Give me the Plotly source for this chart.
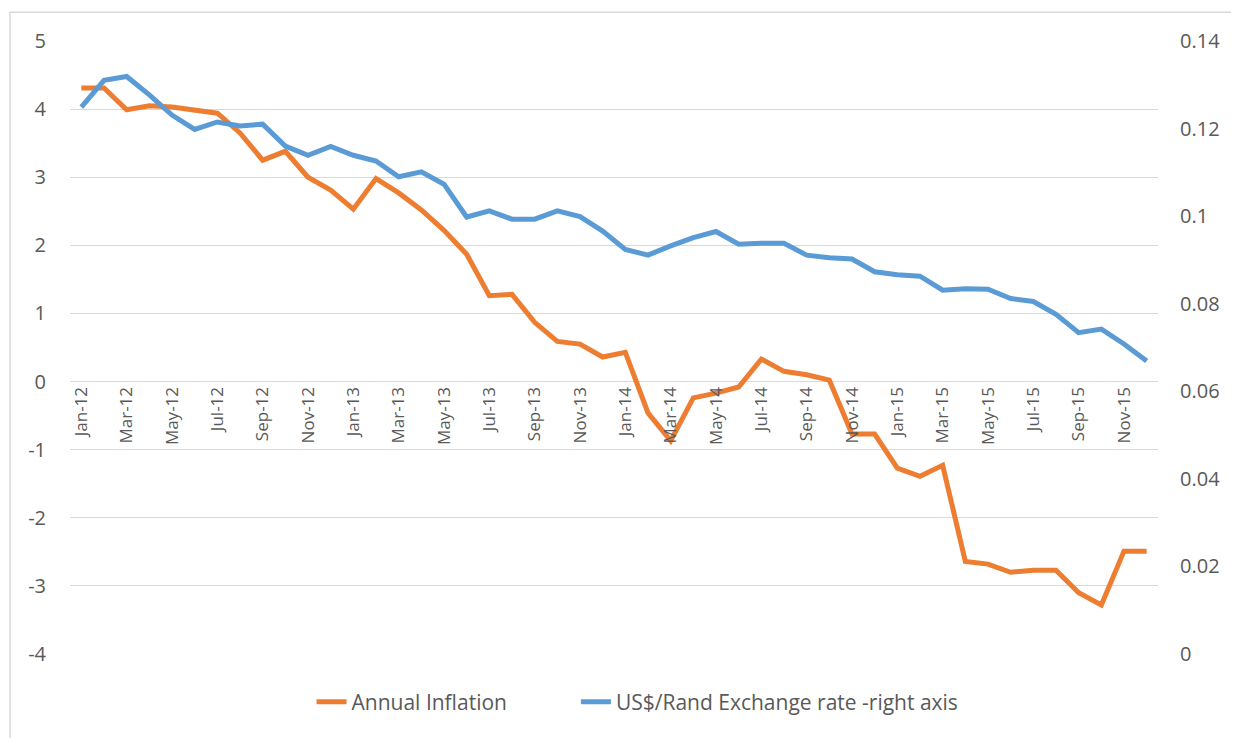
import plotly.graph_objects as go

months = [m + '-' + y for y in ['12', '13', '14', '15']
          for m in ['Jan', 'Feb', 'Mar', 'Apr', 'May', 'Jun',
                    'Jul', 'Aug', 'Sep', 'Oct', 'Nov', 'Dec']]

inflation = [4.31, 4.31, 3.99, 4.05, 4.03, 3.99, 3.94, 3.65, 3.25, 3.38, 3.00, 2.81,
             2.53, 2.98, 2.77, 2.52, 2.22, 1.87, 1.26, 1.28, 0.87, 0.59, 0.55, 0.36,
             0.43, -0.46, -0.87, -0.24, -0.17, -0.08, 0.33, 0.15, 0.10, 0.02, -0.77, -0.77,
             -1.27, -1.39, -1.23, -2.64, -2.68, -2.80, -2.77, -2.77, -3.10, -3.28, -2.49, -2.49]

exchange = [0.1249, 0.1310, 0.1319, 0.1277, 0.1231, 0.1198, 0.1215, 0.1206, 0.1210, 0.1160, 0.1139, 0.1159,
            0.1139, 0.1126, 0.1090, 0.1101, 0.1073, 0.0998, 0.1012, 0.0993, 0.0993, 0.1012, 0.0999, 0.0966,
            0.0924, 0.0911, 0.0932, 0.0951, 0.0965, 0.0936, 0.0938, 0.0938, 0.0911, 0.0905, 0.0902, 0.0873,
            0.0866, 0.0863, 0.0831, 0.0834, 0.0833, 0.0812, 0.0805, 0.0776, 0.0734, 0.0742, 0.0708, 0.0669]

left_ticks = [5, 4, 3, 2, 1, 0, -1, -2, -3, -4]
left_labels = ['5', '4', '3', '2', '1', '0', '-1', '-2', '-3', '-4']
right_ticks = [0, 0.02, 0.04, 0.06, 0.08, 0.1, 0.12, 0.14]
right_labels = ['0', '0.02', '0.04', '0.06', '0.08', '0.1', '0.12', '0.14']

font = 'Open Sans, Liberation Sans, sans-serif'
grey = '#595959'

fig = go.Figure()
fig.add_trace(go.Scatter(x=months, y=inflation, mode='lines', name='Annual Inflation',
                         line=dict(color='#ED7D31', width=5), legend='legend'))
fig.add_trace(go.Scatter(x=months, y=exchange, mode='lines',
                         name='US$/Rand Exchange rate -right axis',
                         line=dict(color='#5B9BD5', width=5), yaxis='y2',
                         legend='legend2'))

legend_style = dict(orientation='h', yanchor='top', y=-0.045, xanchor='left',
                    font=dict(size=21, color=grey), bgcolor='rgba(0,0,0,0)')

# the page adds an 8px body margin, so margins are shifted by 8px
fig.update_layout(
    width=1239, height=738,
    margin=dict(l=62, r=89, t=33, b=92, autoexpand=False),
    paper_bgcolor='white', plot_bgcolor='white',
    font=dict(family=font, color=grey, size=16),
    showlegend=True,
    legend=dict(legend_style, x=0.222),
    legend2=dict(legend_style, x=0.465),
    xaxis=dict(type='category', categoryorder='array', categoryarray=months,
               tickmode='array', tickvals=months[::2], ticktext=months[::2],
               tickangle=-90, showgrid=False, showline=False, ticks='',
               anchor='free', position=4 / 9, range=[-0.5, 47.5],
               automargin=False, ticklabelstandoff=1,
               tickfont=dict(size=17, color=grey)),
    yaxis=dict(range=[-4, 5], tickvals=left_ticks, ticktext=left_labels,
               showgrid=True, gridcolor='#d9d9d9', gridwidth=1, zeroline=False,
               showline=False, ticks='', ticklabelstandoff=23, automargin=False,
               tickfont=dict(size=20, color=grey)),
    yaxis2=dict(range=[0, 0.14], tickvals=right_ticks, ticktext=right_labels,
                overlaying='y', side='right', showgrid=False, zeroline=False,
                showline=False, ticks='', ticklabelstandoff=21, automargin=False,
                tickfont=dict(size=20, color=grey)),
    shapes=[dict(type='rect', xref='paper', yref='paper',
                 x0=-0.0551, x1=1.3, y0=-0.3, y1=1.047,
                 line=dict(color='#d9d9d9', width=1.5), layer='below')],
)

fig.write_html('out.html')
